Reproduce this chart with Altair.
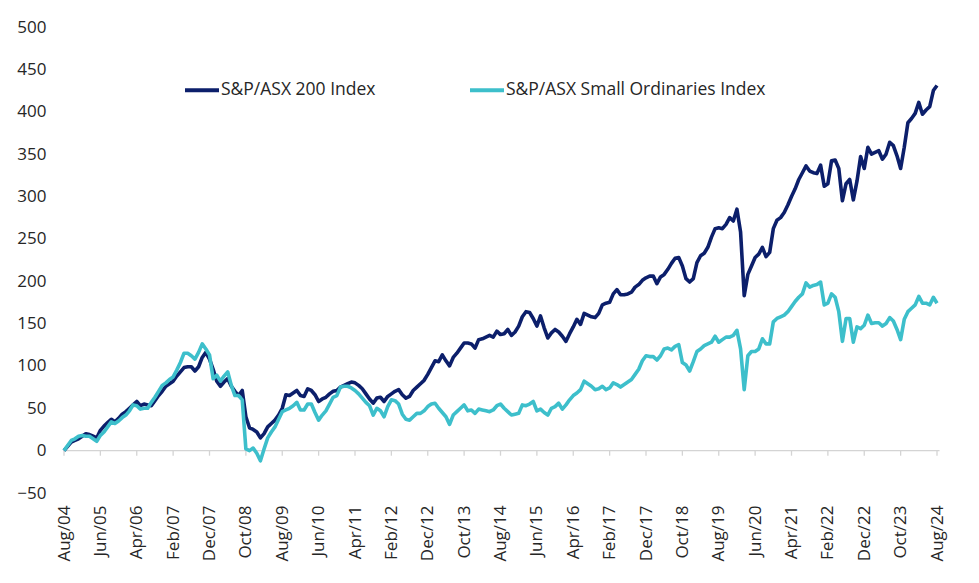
import altair as alt
import pandas as pd

x_labels = ["Aug/04", "Jun/05", "Apr/06", "Feb/07", "Dec/07", "Oct/08", "Aug/09",
            "Jun/10", "Apr/11", "Feb/12", "Dec/12", "Oct/13", "Aug/14", "Jun/15",
            "Apr/16", "Feb/17", "Dec/17", "Oct/18", "Aug/19", "Jun/20", "Apr/21",
            "Feb/22", "Dec/22", "Oct/23", "Aug/24"]

series_names = ["S&P/ASX 200 Index", "S&P/ASX Small Ordinaries Index"]
series_colors = ["#0c1f6b", "#3dbfcb"]

# cumulative return (%) by month, Aug 2004 .. Aug 2024
asx200 = [
    0, 5, 10, 12, 14, 17, 20, 19, 17, 15,
    24, 29, 33, 37, 34, 38, 43, 46, 50, 54,
    58, 53, 55, 54, 53, 59, 65, 70, 76, 79,
    82, 88, 93, 98, 99, 99, 94, 99, 110, 116,
    108, 96, 82, 76, 81, 85, 76, 70, 65, 71,
    40, 27, 25, 22, 15, 20, 28, 32, 36, 42,
    50, 66, 65, 68, 71, 65, 64, 73, 71, 66,
    58, 61, 63, 67, 70, 71, 75, 77, 79, 81,
    80, 77, 73, 67, 61, 56, 62, 63, 58, 64,
    67, 70, 72, 66, 62, 64, 71, 75, 79, 83,
    90, 98, 106, 105, 113, 106, 100, 110, 115, 121,
    127, 127, 126, 121, 131, 132, 134, 136, 134, 141,
    137, 138, 143, 136, 140, 147, 158, 164, 163, 156,
    147, 159, 145, 133, 139, 143, 140, 135, 129, 138,
    146, 155, 149, 162, 160, 158, 157, 162, 172, 174,
    175, 185, 190, 184, 184, 185, 187, 193, 196, 201,
    204, 206, 206, 197, 205, 208, 214, 221, 227, 228,
    218, 203, 199, 203, 222, 230, 233, 240, 252, 262,
    263, 262, 267, 275, 271, 285, 258, 183, 208, 218,
    228, 232, 240, 229, 234, 262, 272, 275, 281, 290,
    300, 309, 320, 328, 336, 330, 328, 327, 337, 312,
    315, 342, 343, 333, 295, 315, 320, 296, 318, 347,
    333, 358, 350, 352, 354, 344, 350, 364, 360, 348,
    333, 358, 387, 392, 398, 411, 397, 402, 406, 425, 431,
]

small_ords = [
    0, 6, 12, 14, 17, 18, 17, 17, 14, 11,
    18, 22, 28, 34, 32, 35, 39, 42, 47, 54,
    53, 49, 50, 50, 57, 63, 70, 77, 80, 84,
    87, 95, 104, 115, 115, 112, 108, 116, 126, 120,
    113, 85, 89, 82, 88, 93, 77, 65, 65, 60,
    2, 0, 3, -3, -12, 2, 15, 22, 28, 37,
    46, 48, 50, 53, 57, 48, 48, 55, 55, 45,
    36, 42, 47, 55, 63, 65, 75, 76, 76, 74,
    71, 67, 62, 57, 53, 42, 50, 47, 40, 52,
    60, 59, 55, 43, 37, 36, 40, 44, 44, 47,
    52, 55, 56, 50, 45, 40, 31, 42, 46, 50,
    54, 47, 48, 44, 49, 48, 47, 46, 48, 53,
    55, 50, 46, 42, 43, 44, 54, 53, 55, 58,
    47, 49, 45, 42, 50, 52, 56, 49, 54, 60,
    65, 68, 72, 82, 79, 76, 72, 73, 76, 72,
    74, 80, 78, 75, 78, 81, 84, 90, 96, 106,
    112, 111, 111, 107, 112, 120, 121, 119, 123, 125,
    104, 101, 94, 105, 117, 120, 124, 126, 128, 135,
    128, 131, 134, 134, 136, 142, 120, 72, 112, 117,
    117, 120, 132, 126, 126, 152, 156, 158, 160, 164,
    170, 176, 181, 185, 198, 193, 195, 196, 199, 172,
    174, 185, 181, 164, 129, 156, 156, 128, 146, 144,
    148, 160, 150, 151, 151, 147, 150, 157, 153, 143,
    131, 155, 164, 168, 172, 182, 174, 174, 172, 181, 174,
]

y_ticks = list(range(-50, 501, 50))
tick_months = [10 * k for k in range(len(x_labels))]
last_month = len(asx200) - 1

rows = []
for name, vals in zip(series_names, [asx200, small_ords]):
    for i, v in enumerate(vals):
        rows.append({"month": i, "value": v, "series": name})
df = pd.DataFrame(rows)

label_array = "[" + ",".join("'" + s + "'" for s in x_labels) + "]"

FONT = "Open Sans"

x_scale = alt.Scale(domain=[0, last_month], nice=False, zero=False)
y_scale = alt.Scale(domain=[-50, 500], nice=False)

x_axis = alt.Axis(values=tick_months, labelExpr=label_array + "[round(datum.value/10)]",
                  labelAngle=-90, labelAlign="right", labelBaseline="middle",
                  labelPadding=12, domain=False, ticks=False, grid=False,
                  title=None, labelFont=FONT, labelFontSize=17,
                  labelColor="#262626", labelOverlap=False, labelBound=False,
                  labelFlush=False)
y_axis = alt.Axis(values=y_ticks, domain=False, ticks=False, grid=False,
                  title=None, labelFont=FONT, labelFontSize=17,
                  labelColor="#262626", labelPadding=18)

lines = alt.Chart(df).mark_line(strokeWidth=3.6, strokeJoin="round").encode(
    x=alt.X("month:Q", scale=x_scale, axis=x_axis),
    y=alt.Y("value:Q", scale=y_scale, axis=y_axis),
    color=alt.Color("series:N",
                    scale=alt.Scale(domain=series_names, range=series_colors),
                    sort=series_names,
                    legend=alt.Legend(title=None, orient="none", direction="horizontal",
                                      legendX=119, legendY=44, symbolType="stroke",
                                      symbolSize=1156, symbolStrokeWidth=4,
                                      labelFont=FONT, labelFontSize=17.5,
                                      labelColor="#262626", labelOffset=0,
                                      labelLimit=400,
                                      columnPadding=86, padding=0)),
    order=alt.Order("month:Q"),
)

axis_line_df = pd.DataFrame({"x": [0], "x2": [last_month + 0.7], "y": [0]})
axis_line = alt.Chart(axis_line_df).mark_rule(color="#d4d4d4", strokeWidth=1.3).encode(
    x=alt.X("x:Q", scale=x_scale, axis=x_axis), x2="x2:Q",
    y=alt.Y("y:Q", scale=y_scale, axis=y_axis)
)

ticks_df = pd.DataFrame({"x": tick_months, "y": [0] * len(tick_months),
                         "y2": [-6] * len(tick_months)})
tick_marks = alt.Chart(ticks_df).mark_rule(color="#d4d4d4", strokeWidth=1.3).encode(
    x=alt.X("x:Q", scale=x_scale, axis=x_axis),
    y=alt.Y("y:Q", scale=y_scale, axis=y_axis), y2="y2:Q"
)

chart = alt.layer(axis_line, tick_marks, lines).properties(
    width=873, height=466,
    background="white",
    autosize=alt.AutoSizeParams(type="none"),
    padding={"left": 56, "top": 19, "right": 30, "bottom": 80},
).configure_view(stroke=None).configure_axisX(labelOverlap=False)

chart.save("out.html", embed_options={"renderer": "svg", "actions": False})
